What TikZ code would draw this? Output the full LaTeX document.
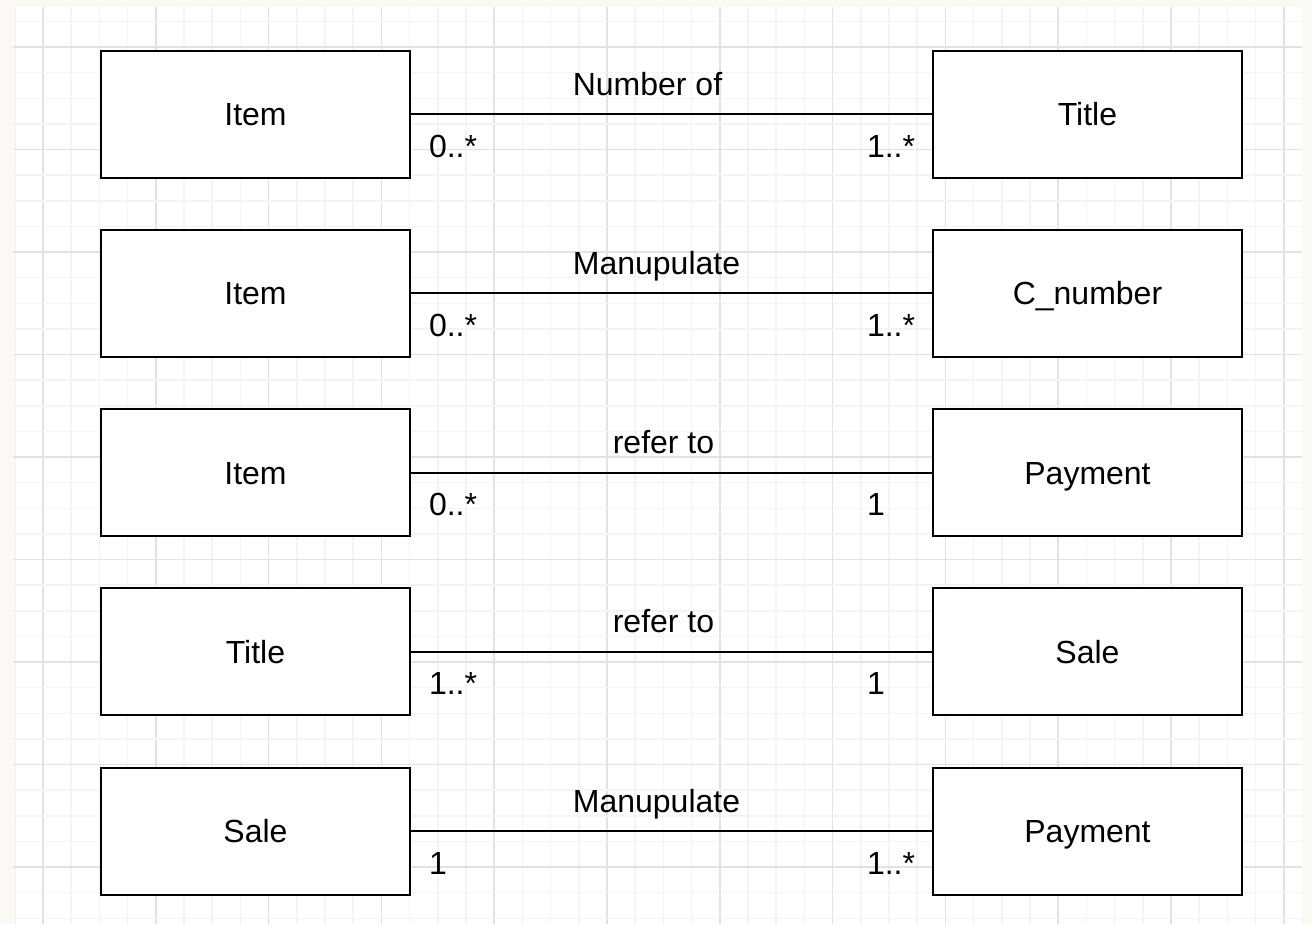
\documentclass[tikz,border=0pt]{standalone}
\usepackage{fontspec}
\setmainfont{Liberation Sans}

\definecolor{paper}{RGB}{250,249,244}
\definecolor{minorgrid}{RGB}{244,244,244}
\definecolor{majorgrid}{RGB}{226,226,226}

\begin{document}
\begin{tikzpicture}[x=1pt,y=-1pt,
  box/.style={draw, line width=2pt, fill=white, minimum width=309pt,
    minimum height=127pt, inner sep=0pt, text height=23pt, text depth=0pt,
    font=\fontsize{32}{38}\selectfont},
  rel/.style={anchor=base, yshift=19pt, inner sep=0pt,
    font=\fontsize{32}{38}\selectfont},
  mult/.style={anchor=base west, yshift=-43pt, inner sep=0pt,
    font=\fontsize{32}{38}\selectfont}]
  \useasboundingbox (0,0) rectangle (1312,924);
  \fill[paper] (0,0) rectangle (1312,924);
  \fill[white] (12.7,7) rectangle (1302,924);

  % grid
  \foreach \k in {-1,...,44} {
    \pgfmathsetmacro{\gx}{43+28.2*\k}
    \pgfmathtruncatemacro{\gm}{mod(\k+4,4)}
    \ifnum\gm=0
      \draw[majorgrid, line width=1.5pt] (\gx,7) -- (\gx,924);
    \else
      \draw[minorgrid, line width=1.5pt] (\gx,7) -- (\gx,924);
    \fi
  }
  \foreach \k in {-1,...,34} {
    \pgfmathsetmacro{\gy}{47+25.625*\k}
    \pgfmathtruncatemacro{\gm}{mod(\k+4,4)}
    \ifnum\gm=0
      \draw[majorgrid, line width=1.5pt] (12.7,\gy) -- (1302,\gy);
    \else
      \draw[minorgrid, line width=1.5pt] (12.7,\gy) -- (1302,\gy);
    \fi
  }

  % classes
  \node[box] (item1) at (255.5,114) {Item};
  \node[box] (title1) at (1087.5,114) {Title};
  \node[box] (item2) at (255.5,293.25) {Item};
  \node[box] (cnum) at (1087.5,293.25) {C\_number};
  \node[box] (item3) at (255.5,472.5) {Item};
  \node[box] (pay1) at (1087.5,472.5) {Payment};
  \node[box] (title2) at (255.5,651.75) {Title};
  \node[box] (sale1) at (1087.5,651.75) {Sale};
  \node[box] (sale2) at (255.5,831) {Sale};
  \node[box] (pay2) at (1087.5,831) {Payment};

  % associations
  \draw[line width=2pt] (item1) -- node[rel, xshift=-24pt] {Number of} (title1)
    node[pos=0, mult, xshift=17pt] {0..*} node[pos=1, mult, xshift=-66pt] {1..*};
  \draw[line width=2pt] (item2) -- node[rel, xshift=-15pt] {Manupulate} (cnum)
    node[pos=0, mult, xshift=17pt] {0..*} node[pos=1, mult, xshift=-66pt] {1..*};
  \draw[line width=2pt] (item3) -- node[rel, xshift=-8pt] {refer to} (pay1)
    node[pos=0, mult, xshift=17pt] {0..*} node[pos=1, mult, xshift=-66pt] {1};
  \draw[line width=2pt] (title2) -- node[rel, xshift=-8pt] {refer to} (sale1)
    node[pos=0, mult, xshift=17pt] {1..*} node[pos=1, mult, xshift=-66pt] {1};
  \draw[line width=2pt] (sale2) -- node[rel, xshift=-15pt] {Manupulate} (pay2)
    node[pos=0, mult, xshift=17pt] {1} node[pos=1, mult, xshift=-66pt] {1..*};
\end{tikzpicture}
\end{document}
